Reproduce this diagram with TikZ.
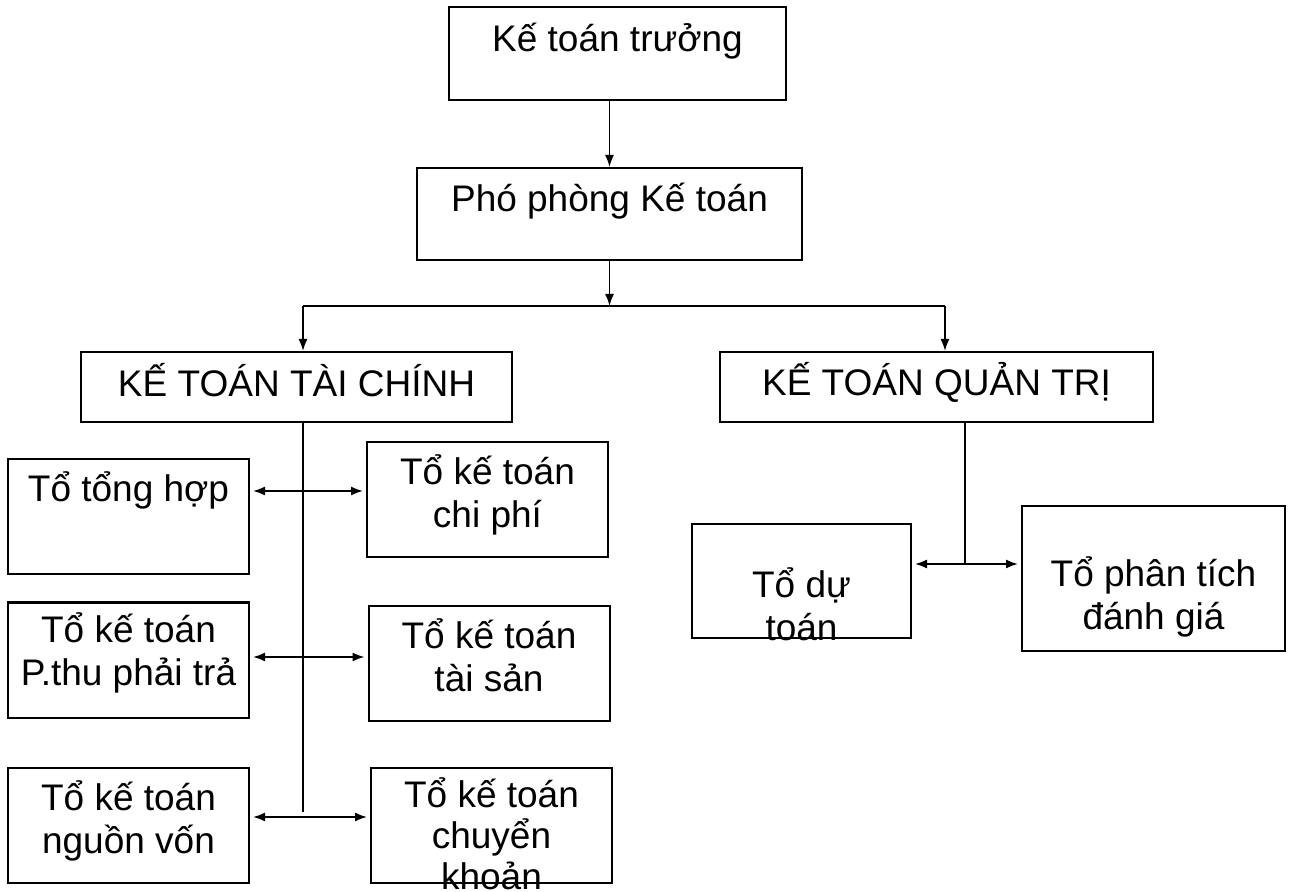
\documentclass[tikz,border=0pt]{standalone}
\usepackage{fontspec}
\setmainfont{Liberation Sans}
\usetikzlibrary{arrows.meta}
\tikzset{box/.style = {draw, line width=1pt, inner sep=0}}
\tikzset{team/.style = {box, minimum width=120.5pt, minimum height=57.5pt}}
\tikzset{txt/.style = {font=\fontsize{18.5}{21.5}\selectfont, align=center, inner sep=0, anchor=north}}
\tikzset{wire/.style = {line width=0.85pt}}
\tikzset{arr/.style = {wire, -{Latex[length=6pt, width=4.5pt]}}}
\tikzset{dbl/.style = {wire, {Latex[length=6pt, width=4.5pt]}-{Latex[length=6pt, width=4.5pt]},
                       shorten <=1.5pt, shorten >=1.5pt}}
\newcommand{\fl}{\rule{0pt}{21.5pt}}

\begin{document}
\begin{tikzpicture}[x=0.5pt, y=-0.5pt]
    \useasboundingbox (0, 0) rectangle (1290, 892);

    \node [box, minimum width=168.5pt, minimum height=46.5pt,
           label={[txt, yshift=-1pt]north:{\fl Kế toán trưởng}}] (ktt) at (617.5, 53.5) {};
    \node [box, minimum width=192.5pt, minimum height=46pt,
           label={[txt, yshift=-0.5pt]north:{\fl Phó phòng Kế toán}}] (pho) at (609.5, 214) {};

    \node [box, minimum width=215.5pt, minimum height=35pt,
           label={[txt, yshift=-1pt]north:{\fl KẾ TOÁN TÀI CHÍNH}}] (kttc) at (296.5, 387) {};
    \node [box, minimum width=216.5pt, minimum height=35pt,
           label={[txt, yshift=-0.5pt]north:{\fl KẾ TOÁN QUẢN TRỊ}}] (ktqt) at (936.5, 387) {};

    \node [team, label={[txt]north:{\fl Tổ tổng hợp}}] (tonghop) at (128.5, 517) {};
    \node [team, label={[txt]north:{\fl Tổ kế toán\\chi phí}}] (chiphi) at (487.5, 500) {};
    \node [team, label={[txt, yshift=1pt]north:{\fl Tổ kế toán\\P.thu phải trả}}] (phaithu) at (128.5, 660) {};
    \node [team, label={[txt]north:{\fl Tổ kế toán\\tài sản}}] (taisan) at (489, 663.5) {};
    \node [team, label={[txt]north:{\fl Tổ kế toán\\nguồn vốn}}] (nguonvon) at (128.5, 825.5) {};
    \node [team, label={[txt, font=\fontsize{18.5}{20.5}\selectfont, yshift=1pt]north:{\fl Tổ kế toán\\chuyển\\khoản}}] (chuyenkhoan) at (491.5, 825) {};

    \node [box, minimum width=109.5pt, minimum height=57pt,
           label={[txt, yshift=-15.5pt]north:{\fl Tổ dự\\toán}}] (dutoan) at (801.5, 581) {};
    \node [box, minimum width=131.5pt, minimum height=72.5pt,
           label={[txt, yshift=-19pt]north:{\fl Tổ phân tích\\đánh giá}}] (phantich) at (1153.5, 578.5) {};

    \coordinate (tcbus) at (303, 306);
    \coordinate (qtbus) at (945, 306);
    \coordinate (tcend) at (303, 812);
    \coordinate (row1) at (303, 491);
    \coordinate (row2) at (303, 657);
    \coordinate (row3) at (303, 817);
    \coordinate (qtrow) at (965, 564);

    \draw [arr] (pho.north |- ktt.south) -- (pho.north);
    \draw [arr] (pho.south) -- (pho.south |- tcbus);
    \draw [wire] (tcbus) -- (qtbus);
    \draw [arr] (tcbus) -- (tcbus |- kttc.north);
    \draw [arr] (qtbus) -- (qtbus |- ktqt.north);

    \draw [wire] (tcbus |- kttc.south) -- (tcend);
    \draw [dbl] (tonghop.east |- row1) -- (chiphi.west |- row1);
    \draw [dbl] (phaithu.east |- row2) -- (taisan.west |- row2);
    \draw [dbl] (nguonvon.east |- row3) -- (chuyenkhoan.west |- row3);

    \draw [wire] (qtrow |- ktqt.south) -- (qtrow);
    \draw [dbl] (dutoan.east |- qtrow) -- (phantich.west |- qtrow);
\end{tikzpicture}
\end{document}
